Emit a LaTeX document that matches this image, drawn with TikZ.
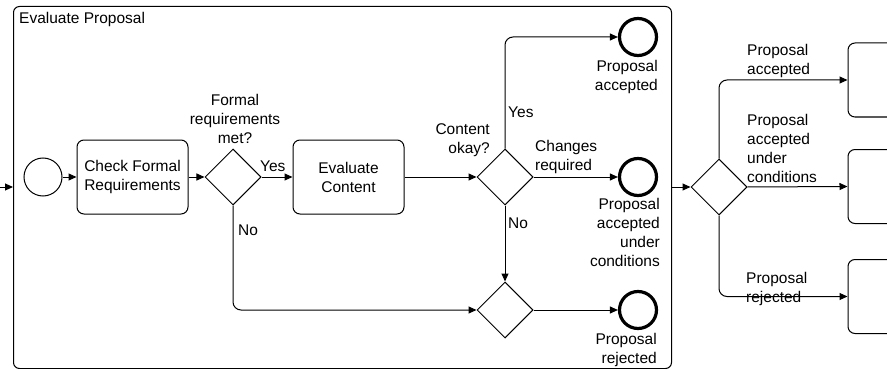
\documentclass[tikz,border=0pt]{standalone}
\usepackage{fontspec}
\setmainfont{Liberation Sans}
\usetikzlibrary{arrows.meta,shapes.geometric}
\begin{document}
\begin{tikzpicture}[x=1pt,y=-1pt,
  every node/.style={font=\fontsize{15.5}{19}\selectfont, inner sep=0pt},
  line/.style={line width=1pt},
  flow/.style={line, -{Triangle[length=8pt,width=7pt]}, rounded corners=8pt},
  task/.style={draw, line width=1pt, rounded corners=7pt, minimum width=111pt, minimum height=74pt, align=center},
  gate/.style={draw, line width=1pt, diamond, minimum width=56pt, minimum height=56pt},
  startev/.style={draw, line width=1pt, circle, minimum size=38pt},
  endev/.style={draw, line width=3.2pt, circle, minimum size=37pt},
  lbl/.style={align=left},
  rlbl/.style={align=right},
  clbl/.style={align=center}]
\useasboundingbox (0,0) rectangle (887,369);
\clip (0,0) rectangle (887,369);

% sub-process frame
\node[draw, line width=1pt, rounded corners=6pt, minimum width=658pt, minimum height=362pt, anchor=north west] (sub) at (13,6) {};
\node[anchor=base west] (subtitle) at (19,24) {Evaluate Proposal};

% inner flow
\node[startev] (start) at (43,177) {};
\node[task] (check) at (132.5,177) {Check Formal\\Requirements};
\node[gate] (gw1) at (233,177) {};
\node[task] (evalc) at (348.5,177) {Evaluate\\Content};
\node[gate] (gw2) at (505,177) {};
\node[gate] (gw3) at (505,310) {};
\node[endev] (end1) at (638,37) {};
\node[endev] (end2) at (638,177) {};
\node[endev] (end3) at (638,310) {};

% labels
\node[clbl] (q1) at (235,119) {Formal\\requirements\\met?};
\node[rlbl, anchor=east] (q2) at (490,140) {Content\\okay?};
\node[anchor=west] (yes1) at (260,166) {Yes};
\node[anchor=west] (no1) at (238,230) {No};
\node[anchor=west] (yes2) at (508,112) {Yes};
\node[lbl, anchor=west] (chg) at (535,157) {Changes\\required};
\node[anchor=west] (no2) at (508,223) {No};
\node[rlbl, anchor=east] (l1) at (658,77) {Proposal\\accepted};
\node[rlbl, anchor=east] (l2) at (660,232) {Proposal\\accepted\\under\\conditions};
\node[rlbl, anchor=east] (l3) at (657,350) {Proposal\\rejected};

% connectors inside
\coordinate (in) at (0,187);
\draw[flow] (in) -- (in -| sub.west);
\draw[flow] (start) -- (check);
\draw[flow] (check) -- (gw1);
\draw[flow] (gw1.east) -- (evalc.west);
\draw[flow] (gw1.south) |- (gw3.west);
\draw[flow] (evalc.east) -- (gw2.west);
\draw[flow] (gw2.north) |- (end1.west);
\draw[flow] (gw2.east) -- (end2.west);
\draw[flow] (gw2.south) -- (gw3.north);
\draw[flow] (gw3.east) -- (end3.west);

% outer flow
\node[gate] (gw4) at (719,187) {};
\node[task] (ta) at (903.5,80) {};
\node[task] (tb) at (903.5,186.5) {};
\node[task] (tc) at (903.5,296.5) {};
\draw[flow] (sub.east |- gw4.west) -- (gw4.west);
\draw[flow] (gw4.north) |- (ta.west);
\draw[flow] (gw4.east) -- (tb.west);
\draw[flow] (gw4.south) |- (tc.west);
\node[lbl, anchor=west] (o1) at (747,61) {Proposal\\accepted};
\node[lbl, anchor=west] (o2) at (747,148.5) {Proposal\\accepted\\under\\conditions};
\node[lbl, anchor=west] (o3) at (746,289) {Proposal\\rejected};
\end{tikzpicture}
\end{document}
